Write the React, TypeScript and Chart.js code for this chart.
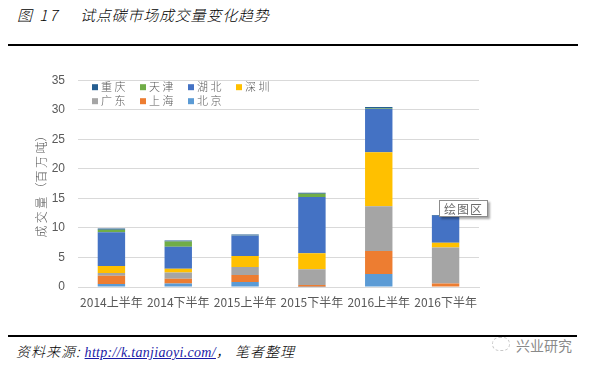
import React, { useEffect, useRef } from "react";
import { Chart, registerables } from "chart.js";

Chart.register(...registerables);

const categories = ["2014上半年", "2014下半年", "2015上半年", "2015下半年", "2016上半年", "2016下半年"];
const beijing = [0.5, 0.6, 0.85, 0.05, 2.2, 0.1];
const shanghai = [1.4, 0.8, 1.2, 0.3, 3.9, 0.5];
const guangdong = [0.45, 1.05, 1.35, 2.65, 7.55, 6.1];
const shenzhen = [1.2, 0.65, 1.85, 2.7, 9.15, 0.8];
const hubei = [5.7, 3.7, 3.45, 9.55, 7.35, 4.55];
const tianjin = [0.45, 0.9, 0.05, 0.55, 0.15, 0.0];
const chongqing = [0.2, 0.15, 0.15, 0.15, 0.15, 0.15];
const yTicks = [0, 5, 10, 15, 20, 25, 30, 35];

const seriesNames = ["北京", "上海", "广东", "深圳", "湖北", "天津", "重庆"];
const seriesColors = ["#5B9BD5", "#ED7D31", "#A5A5A5", "#FFC000", "#4472C4", "#70AD47", "#255E91"];
const seriesData = [beijing, shanghai, guangdong, shenzhen, hubei, tianjin, chongqing];

const FONT = "'Noto Sans CJK SC', 'Liberation Sans', sans-serif";

const legendPlugin = {
  id: "innerLegend",
  afterDraw(chart: any) {
    const ctx = chart.ctx;
    const area = chart.chartArea;
    const ds = chart.data.datasets.slice().reverse();
    ctx.save();
    ctx.font = `300 11px ${FONT}`;
    (ctx as any).letterSpacing = "2.5px";
    ctx.textBaseline = "middle";
    ds.forEach((d: any, i: number) => {
      const row = i < 4 ? 0 : 1;
      const col = i < 4 ? i : i - 4;
      const x = area.left + 14 + col * 48;
      const y = area.top + 7 + row * 14;
      ctx.fillStyle = d.backgroundColor;
      ctx.fillRect(x, y - 3, 6, 6);
      ctx.fillStyle = "#595959";
      ctx.fillText(d.label, x + 9, y);
    });
    ctx.restore();
  },
};

function ChartBox() {
  const ref = useRef<HTMLCanvasElement | null>(null);
  useEffect(() => {
    if (!ref.current) return;
    const chart = new Chart(ref.current, {
      type: "bar",
      data: {
        labels: categories,
        datasets: seriesNames.map((n, i) => ({
          label: n,
          data: seriesData[i],
          backgroundColor: seriesColors[i],
          borderWidth: 0,
          categoryPercentage: 1,
          barPercentage: 0.41,
        })),
      },
      options: {
        animation: false,
        responsive: false,
        devicePixelRatio: 1,
        layout: { padding: { left: 0, right: 112, top: 17, bottom: 0 } },
        plugins: {
          legend: { display: false },
          tooltip: { enabled: false },
        },
        scales: {
          x: {
            stacked: true,
            grid: { display: false, drawTicks: false },
            border: { display: true, color: "#D9D9D9" },
            ticks: { color: "#595959", font: { size: 12, family: FONT }, padding: 8, maxRotation: 0 },
            afterFit: (axis: any) => { axis.height = 43; },
          },
          y: {
            stacked: true,
            min: 0,
            max: 35,
            afterBuildTicks: (axis: any) => { axis.ticks = yTicks.map((v) => ({ value: v })); },
            grid: { color: "#D9D9D9", drawTicks: false },
            border: { display: false },
            ticks: { color: "#595959", font: { size: 12, family: "'Liberation Sans', sans-serif" }, padding: 13 },
            title: {
              display: true,
              text: "成\u2009交\u2009量\u2009（百\u2009万\u2009吨）",
              color: "#595959",
              font: { size: 12, family: FONT, weight: "300" },
              padding: { top: 34, bottom: 0 },
            },
            afterFit: (axis: any) => { axis.width = 78; },
          },
        },
      },
      plugins: [legendPlugin],
    });
    return () => chart.destroy();
  }, []);
  return <canvas ref={ref} width={591} height={270} style={{ position: "absolute", left: 0, top: 60 }} />;
}

export default function App() {
  const italic: React.CSSProperties = { fontStyle: "italic", fontFamily: FONT, position: "absolute", whiteSpace: "nowrap", fontWeight: 300 };
  return (
    <div style={{ position: "absolute", left: 0, top: 0, width: 591, height: 376, background: "#fff", overflow: "hidden" }}>
      <div style={{ ...italic, left: 17, top: 4, fontSize: 15, letterSpacing: 2, color: "#000" }}>图 17</div>
      <div style={{ ...italic, left: 80, top: 4, fontSize: 15, letterSpacing: 0.8, color: "#000" }}>试点碳市场成交量变化趋势</div>
      <div style={{ position: "absolute", left: 8, top: 44, width: 570, height: 1.5, background: "#000" }} />
      <ChartBox />
      <div
        style={{
          position: "absolute", left: 439, top: 200, width: 47, height: 15, background: "#fff",
          border: "1px solid #8c8c8c", boxShadow: "2px 2px 2px rgba(0,0,0,0.35)", fontFamily: FONT,
          fontSize: 12, color: "#6b6b6b", lineHeight: "15px", textAlign: "center", letterSpacing: 1,
        }}
      >
        绘图区
      </div>
      <div style={{ position: "absolute", left: 8, top: 335, width: 569, height: 1.5, background: "#000" }} />
      <div style={{ ...italic, left: 16, top: 341, fontSize: 14, letterSpacing: 1, color: "#000" }}>
        资料来源:&nbsp;
        <span style={{ color: "#1a1aa6", textDecoration: "underline", fontFamily: "'Liberation Serif', serif", fontSize: 14, letterSpacing: 0.3 }}>
          http://k.tanjiaoyi.com/
        </span>
        ，&nbsp;笔者整理
      </div>
      <div style={{ position: "absolute", left: 492, top: 337, width: 16, height: 12, border: "1px dashed #c8c8c8", borderRadius: 8 }} />
      <div style={{ position: "absolute", left: 516, top: 335, fontFamily: FONT, fontSize: 14, color: "#8a8a8a", whiteSpace: "nowrap" }}>
        兴业研究
      </div>
    </div>
  );
}
